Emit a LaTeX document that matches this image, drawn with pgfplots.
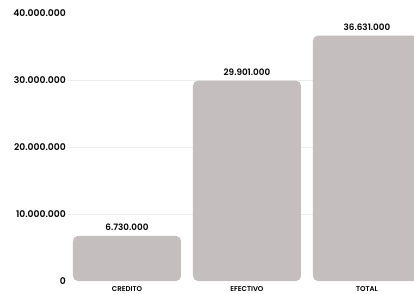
\documentclass[border=0pt]{standalone}
\usepackage{pgfplots}
\pgfplotsset{compat=1.18}
\usepackage{fontspec}
\setmainfont{Poppins}[UprightFont=* SemiBold]
\definecolor{barc}{RGB}{196,191,190}
\definecolor{gridc}{RGB}{238,238,238}
\begin{document}
\begin{tikzpicture}[x=1pt,y=1pt]
\path[use as bounding box] (0,0) rectangle (414,293);
\begin{axis}[
  at={(67pt,12pt)}, anchor=south west,
  scale only axis, width=347pt, height=281pt,
  xmin=-0.5, xmax=2.392, ymin=0, ymax=41940298,
  ybar, bar width=108pt,
  axis line style={draw=none}, tick style={draw=none},
  xtick=data, xticklabels={CREDITO,EFECTIVO,TOTAL},
  x tick label style={font=\fontsize{7}{7}\selectfont, inner sep=0pt, anchor=north, yshift=-1pt},
  ytick={0,10000000,20000000,30000000,40000000},
  scaled y ticks=false,
  y tick label style={font=\fontsize{9.2}{10}\selectfont, inner sep=0pt, anchor=east, xshift=-1pt},
  yticklabel={\pgfmathprintnumber[fixed,precision=0,1000 sep={.},assume math mode=true]{\tick}},
  extra y ticks={10000000,20000000,30000000},
  extra y tick labels={},
  extra y tick style={grid=major, grid style={gridc, line width=0.6pt}},
  nodes near coords={\pgfmathprintnumber[fixed,precision=0,1000 sep={.},assume math mode=true]{\pgfplotspointmeta}},
  nodes near coords style={font=\fontsize{8.8}{9}\selectfont, inner sep=0pt, yshift=5pt},
  clip=true,
]
\addplot[fill=barc, draw=none, rounded corners=5pt] coordinates {(0,6730000) (1,29901000) (2,36631000)};
\end{axis}
\end{tikzpicture}
\end{document}
